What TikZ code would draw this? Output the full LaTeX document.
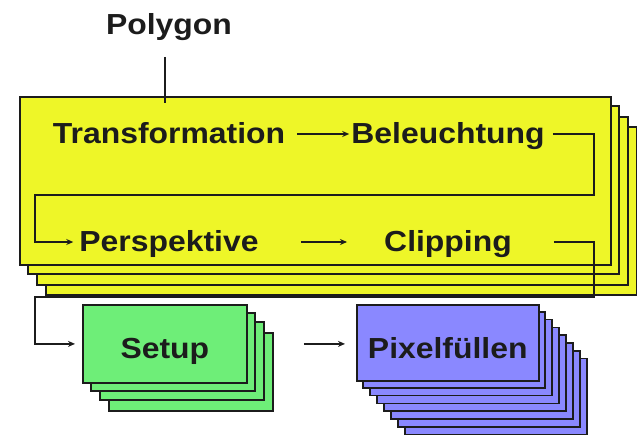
\documentclass[tikz,border=0pt]{standalone}
\usepackage{fontspec}
\setmainfont{Liberation Sans}[FakeStretch=1.1]
\usetikzlibrary{arrows.meta}
\definecolor{ylw}{RGB}{238,246,40}
\definecolor{grn}{RGB}{110,238,120}
\definecolor{pur}{RGB}{138,136,255}
\definecolor{ink}{RGB}{28,28,28}
\begin{document}
\begin{tikzpicture}[x=1pt,y=-1pt,
  lbl/.style={font=\fontsize{29}{30}\selectfont\bfseries, text=ink, inner sep=0pt, text height=21pt, text depth=3pt},
  layer/.style={draw=ink, line width=1.8pt},
  frontbox/.style={layer, anchor=north west, inner sep=0pt, font=\fontsize{29}{30}\selectfont\bfseries, text=ink},
  conn/.style={draw=ink, line width=1.6pt},
  arr/.style={conn, -{Stealth[length=7pt,width=6pt]}}]
\useasboundingbox (0,0) rectangle (637,436);
% yellow stack
\foreach \d/\e in {27/31,18/21,9/10}
  \draw[layer, fill=ylw] (19+\d,96+\e) rectangle (610+\d,264+\e);
\node[frontbox, fill=ylw, minimum width=591pt, minimum height=168pt] (yfront) at (19,96) {};
% green stack
\foreach \d/\e in {27/29,18/18,9/9}
  \draw[layer, fill=grn] (82+\d,304+\e) rectangle (246+\d,382+\e);
\node[frontbox, fill=grn, minimum width=164pt, minimum height=78pt, text height=30pt, text depth=0pt] (setup) at (82,304) {Setup};
% purple stack
\foreach \i in {7,6,...,1}
  \draw[layer, line width=1.5pt, fill=pur] (356+7*\i,304+7.8*\i) rectangle (538+7*\i,380+7.8*\i);
\node[frontbox, line width=1.5pt, fill=pur, minimum width=182pt, minimum height=76pt, text height=32pt, text depth=0pt] (pix) at (356,304) {Pixelfüllen};
% labels
\node[lbl] (poly) at (169,26) {Polygon};
\node[lbl] (trans) at (169,134) {Transformation};
\node[lbl] (bel) at (448,134) {Beleuchtung};
\node[lbl] (persp) at (169,242) {Perspektive};
\node[lbl] (clip) at (448,242) {Clipping};
% coordinates
\coordinate (pa) at (165,57);
\coordinate (pb) at (165,103);
\coordinate (c1) at (594,195);
\coordinate (c2) at (35,195);
\coordinate (c3) at (594,297);
\coordinate (c4) at (35,297);
% connectors
\draw[conn] (pa) -- (pb);
\draw[arr] ([xshift=12pt]trans.east) -- ([xshift=-2pt]bel.west);
\draw[arr] ([xshift=8pt]bel.east) -| (c1) -- (c2) |- ([xshift=-6pt]persp.west);
\draw[arr] ([xshift=42pt]persp.east) -- ([xshift=-37pt]clip.west);
\draw[arr] ([xshift=42pt]clip.east) -| (c3) -- (c4) |- ([xshift=-7pt]setup.west);
\draw[arr] ([xshift=56pt]setup.east) -- ([xshift=-11pt]pix.west |- setup.east);
\end{tikzpicture}
\end{document}
